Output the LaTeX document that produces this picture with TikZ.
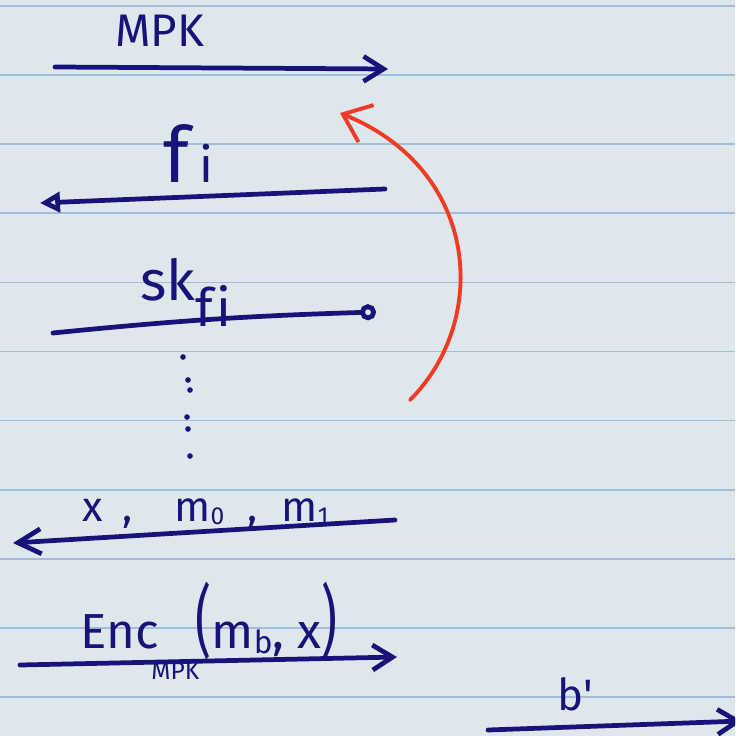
\documentclass[tikz,border=0pt]{standalone}
\usepackage{fontspec}
\setsansfont{Fira Sans}
\usetikzlibrary{arrows.meta}
\definecolor{paper}{HTML}{DEE8EC}
\definecolor{ruling}{HTML}{A3BCD8}
\definecolor{inkblue}{HTML}{17137A}
\definecolor{redink}{HTML}{EF3B24}
\newcommand\low[2]{\raisebox{-#1}{#2}}
\newcommand\fs[1]{\fontsize{#1}{#1}\selectfont}
\tikzset{
  ink/.style={draw=inkblue,line width=2.7pt,line cap=round,line join=round},
  barb/.style={-{Straight Barb[length=#1,width=5mm]}},
  lab/.style={text=inkblue,anchor=base west,inner sep=0pt,font=\sffamily\fs{#1}},
}
\begin{document}
\begin{tikzpicture}[x=0.02cm,y=-0.02cm]
\useasboundingbox (0,0) rectangle (735,736);
\clip (0,0) rectangle (735,736);
% ruled paper
\fill[paper] (0,0) rectangle (735,736);
\foreach \k in {0,...,10}
  \draw[ruling,line width=1pt] (0,{6+69.1*\k}) -- (735,{6+69.1*\k});
% labels
\node[lab=26] (mpk) at (115,47) {MPK};
\node[lab=44] (fi) at (163,183) {f\hspace{6pt}{\fs{28}i}};
\node[lab=32] (skfi) at (140,300) {sk\low{15pt}{\fs{30}f\hspace{2pt}i}};
\node[lab=24] (xmm) at (82,521) {x\hspace{11pt},\hspace{24pt}m\low{2pt}{\fs{14}0}\hspace{13pt},\hspace{14pt}m\low{2pt}{\fs{14}1}};
\node[lab=28] (enc) at (80,648) {Enc\hspace{-4pt}\low{18pt}{\fs{14}MPK}\hspace{-2pt}\scalebox{1}[1.6]{(}m\low{3pt}{\fs{18}b}, x\scalebox{1}[1.6]{)}};
\node[lab=25] (bp) at (557,710) {b\textquotesingle};
% end points
\coordinate (mpkA) at (55,67);   \coordinate (mpkB) at (388,69);
\coordinate (fiA) at (385,189);  \coordinate (fiB) at (40,203);
\coordinate (skA) at (53,333);   \coordinate (skB) at (376,312);
\coordinate (xmA) at (395,520);  \coordinate (xmB) at (13,543);
\coordinate (encA) at (20,665);  \coordinate (encB) at (397,657);
\coordinate (bpA) at (488,730);  \coordinate (bpB) at (742,721);
\coordinate (arcA) at (410,400); \coordinate (arcB) at (340,113);
% messages
\draw[ink,barb=4mm] (mpkA) -- (mpkB);
\draw[ink,-{Triangle[open,length=4mm,width=4mm]}] (fiA) -- (fiB);
\draw[ink,-{Circle[open,length=3.2mm]}] (skA) to[bend left=2] (skB);
\draw[ink,barb=4.6mm] (xmA) -- (xmB);
\draw[ink,barb=4mm] (encA) -- (encB);
\draw[ink,barb=4mm] (bpA) -- (bpB);
% vertical dots
\foreach \x/\y in {183/357,188/380,190/390,187/417,188/429,190/456}
  \fill[inkblue] (\x,\y) circle (1.6pt);
% red return arc
\draw[redink,line width=2.2pt,line cap=round,-{Straight Barb[length=5mm,width=8mm]}]
  (arcA) .. controls (490,320) and (480,170) .. (arcB);
\end{tikzpicture}
\end{document}
